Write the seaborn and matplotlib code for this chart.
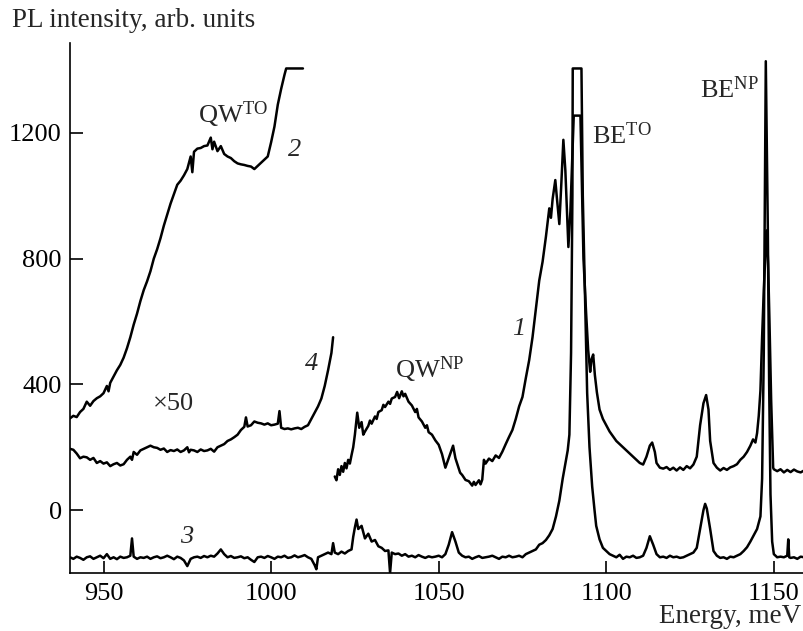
import pandas as pd
import seaborn as sns
from matplotlib import pyplot as plt

# spectra as (energy meV, intensity) points

# curve 1 (upper right)
curve_1 = [
    (1019, 107), (1019.5, 95), (1020, 130), (1020.5, 112), (1021, 140), (1021.5, 122),
    (1022, 150), (1022.5, 133), (1023, 160), (1023.5, 148), (1024, 175), (1024.5, 200),
    (1025, 240), (1025.7, 310), (1026.3, 262), (1027, 280), (1027.5, 240), (1028, 250),
    (1029, 268), (1029.5, 285), (1030, 275), (1031, 298), (1031.5, 290), (1032, 312),
    (1033, 318), (1033.5, 335), (1034, 328), (1035, 345), (1035.5, 338), (1036, 355),
    (1037, 360), (1037.6, 376), (1038.2, 356), (1039, 378), (1039.5, 362), (1040, 370),
    (1041, 345), (1042, 333), (1043, 312), (1043.5, 322), (1044, 295), (1045, 282), (1046, 262),
    (1046.5, 270), (1047, 248), (1048, 240), (1049, 222), (1050, 208), (1051, 178), (1052, 135),
    (1053, 165), (1054.3, 205), (1055, 165), (1056.4, 119), (1057, 112), (1058, 96), (1059, 92),
    (1060, 78), (1060.5, 90), (1061, 80), (1062, 95), (1062.5, 82), (1063, 97), (1063.5, 160),
    (1064, 148), (1065, 164), (1066, 156), (1067, 174), (1068, 166), (1069, 186), (1070, 210),
    (1071, 233), (1072, 255), (1073, 290), (1074, 330), (1075, 360), (1076, 420), (1077, 477),
    (1078, 550), (1079, 640), (1080, 730), (1081, 790), (1082, 870), (1083, 960), (1083.5, 930),
    (1084, 990), (1084.8, 1050), (1085.3, 990), (1086, 910), (1086.6, 1040), (1087.2, 1178),
    (1087.8, 1080), (1088.7, 837), (1089.3, 950), (1089.9, 1130), (1090.3, 1255),
    (1092.3, 1255), (1092.7, 1050), (1093.2, 800), (1094, 625), (1094.6, 510), (1095.2, 440),
    (1095.6, 480), (1096.1, 495), (1096.6, 430), (1097.2, 375), (1098, 320), (1099, 290),
    (1100, 270), (1101, 250), (1102, 235), (1103, 220), (1104, 210), (1105, 200), (1106, 190),
    (1107, 180), (1108, 170), (1109, 160), (1110, 150), (1111, 145), (1112, 170), (1113, 205),
    (1113.7, 215), (1114.5, 185), (1115, 150), (1116, 135), (1117, 132), (1118, 137),
    (1119, 128), (1120, 135), (1121, 126), (1122, 136), (1123, 128), (1124, 140), (1125, 133),
    (1126, 145), (1127, 170), (1128, 270), (1129, 340), (1129.8, 366), (1130.5, 320),
    (1131, 220), (1132, 150), (1133, 135), (1134, 126), (1135, 134), (1136, 128), (1137, 136),
    (1138, 140), (1139, 146), (1140, 160), (1141, 170), (1142, 185), (1143, 205), (1143.8, 225),
    (1144.5, 215), (1145, 245), (1145.5, 300), (1146, 380), (1146.5, 550), (1147, 700),
    (1147.5, 820), (1147.9, 890), (1148.3, 780), (1148.7, 600), (1149.2, 350), (1149.8, 135),
    (1150, 130), (1151, 124), (1152, 130), (1153, 120), (1154, 128), (1155, 121), (1156, 129),
    (1157, 123), (1158, 120), (1159, 126),
]

# curve 2 (upper left)
curve_2 = [
    (940, 292), (941, 300), (942, 296), (943, 312), (944, 322), (945, 345), (946, 332),
    (947, 347), (948, 356), (949, 362), (950, 372), (951, 395), (951.5, 378), (952, 405),
    (953, 425), (954, 445), (955, 462), (956, 485), (957, 515), (958, 550), (959, 590),
    (960, 625), (961, 665), (962, 700), (963, 728), (964, 760), (965, 800), (966, 830),
    (967, 865), (968, 905), (969, 940), (970, 975), (971, 1005), (972, 1035), (973, 1048),
    (974, 1065), (975, 1085), (976, 1125), (976.5, 1075), (977, 1140), (978, 1150), (979, 1152),
    (980, 1158), (981, 1160), (982, 1185), (982.5, 1148), (983, 1172), (984, 1142), (985, 1158),
    (986, 1133), (987, 1125), (988, 1120), (989, 1110), (990, 1103), (991, 1100), (992, 1098),
    (993, 1095), (994, 1093), (995, 1085), (996, 1095), (997, 1105), (998, 1115), (999, 1125),
    (1000, 1170), (1001, 1220), (1002, 1290), (1003, 1340), (1004, 1385), (1004.5, 1405),
    (1009.5, 1405),
]

# curve 3 (bottom)
curve_3 = [
    (940, -150), (941, -155), (942, -148), (943, -152), (944, -158), (945, -150), (946, -147),
    (947, -155), (948, -150), (949, -145), (950, -153), (951, -140), (952, -155), (953, -150),
    (954, -156), (955, -148), (956, -152), (957, -150), (958, -145), (958.5, -90), (959, -148),
    (960, -155), (961, -150), (962, -152), (963, -148), (964, -155), (965, -150), (966, -147),
    (967, -153), (968, -150), (969, -145), (970, -150), (971, -156), (972, -148), (973, -152),
    (974, -160), (975, -178), (976, -155), (977, -150), (978, -148), (979, -152), (980, -146),
    (981, -150), (982, -145), (983, -148), (984, -138), (985, -125), (986, -140), (987, -150),
    (988, -146), (989, -152), (990, -150), (991, -147), (992, -153), (993, -150), (994, -158),
    (995, -165), (996, -150), (997, -148), (998, -152), (999, -146), (1000, -150),
    (1001, -155), (1002, -148), (1003, -150), (1004, -145), (1005, -152), (1006, -150),
    (1007, -144), (1008, -150), (1009, -147), (1010, -143), (1011, -150), (1012, -155),
    (1013, -175), (1013.5, -188), (1014, -150), (1015, -145), (1016, -140), (1017, -135),
    (1018, -140), (1018.5, -105), (1019, -135), (1020, -140), (1021, -132), (1022, -138),
    (1023, -130), (1024, -125), (1024.5, -85), (1025, -55), (1025.5, -30), (1026, -60),
    (1027, -50), (1028, -90), (1029, -75), (1030, -100), (1031, -95), (1032, -115),
    (1033, -120), (1034, -130), (1035, -128), (1035.5, -200), (1036, -135), (1037, -140),
    (1038, -138), (1039, -145), (1040, -140), (1041, -148), (1042, -145), (1043, -150),
    (1044, -143), (1045, -148), (1046, -152), (1047, -147), (1048, -150), (1049, -148),
    (1050, -145), (1051, -150), (1052, -140), (1053, -110), (1054, -70), (1055, -100),
    (1056, -135), (1057, -145), (1058, -150), (1059, -148), (1060, -155), (1061, -150),
    (1062, -146), (1063, -152), (1064, -150), (1065, -148), (1066, -145), (1067, -150),
    (1068, -155), (1069, -148), (1070, -150), (1071, -145), (1072, -150), (1073, -148),
    (1074, -145), (1075, -150), (1076, -140), (1077, -135), (1078, -130), (1079, -125),
    (1080, -110), (1081, -105), (1082, -95), (1083, -80), (1084, -60), (1085, -20), (1086, 30),
    (1087, 100), (1088, 160), (1088.5, 190), (1089, 240), (1089.5, 500), (1089.9, 1000),
    (1090.0, 1405), (1092.6, 1405), (1093.0, 1000), (1093.7, 668), (1094.3, 373), (1095, 200),
    (1095.8, 75), (1096.5, 0), (1097, -50), (1098, -93), (1099, -120), (1100, -130),
    (1101, -140), (1102, -145), (1103, -150), (1104, -142), (1105, -155), (1106, -148),
    (1107, -150), (1108, -145), (1109, -152), (1110, -150), (1111, -145), (1112, -120),
    (1113, -83), (1114, -110), (1115, -140), (1116, -150), (1117, -148), (1118, -152),
    (1119, -145), (1120, -150), (1121, -148), (1122, -152), (1123, -150), (1124, -145),
    (1125, -140), (1126, -135), (1127, -120), (1128, -60), (1129, 0), (1129.5, 20), (1130, 5),
    (1131, -60), (1132, -130), (1133, -145), (1134, -152), (1135, -150), (1136, -155),
    (1137, -148), (1138, -150), (1139, -145), (1140, -140), (1141, -130), (1142, -118),
    (1143, -100), (1144, -80), (1145, -60), (1146, -20), (1146.5, 100), (1147, 500),
    (1147.6, 1428), (1148.2, 900), (1148.6, 400), (1149, 50), (1149.5, -100), (1150, -140),
    (1151, -150), (1152, -148), (1153, -150), (1154, -145), (1154.3, -93), (1154.6, -150),
    (1155, -152), (1156, -150), (1157, -155), (1158, -148), (1159, -150),
]

# curve 4 (x50)
curve_4 = [
    (940, 195), (941, 192), (942, 180), (943, 165), (944, 170), (945, 168), (946, 160),
    (947, 166), (948, 150), (949, 156), (950, 148), (951, 152), (952, 140), (953, 146),
    (954, 150), (955, 142), (956, 146), (957, 160), (958, 170), (958.5, 160), (959, 185),
    (960, 176), (961, 190), (962, 195), (963, 200), (964, 205), (965, 200), (966, 198),
    (967, 192), (968, 196), (969, 185), (970, 191), (971, 188), (972, 193), (973, 185),
    (974, 190), (975, 200), (975.5, 184), (976, 192), (977, 190), (978, 185), (979, 193),
    (980, 188), (981, 190), (982, 195), (983, 186), (984, 200), (985, 205), (986, 210),
    (987, 220), (988, 225), (989, 232), (990, 240), (991, 255), (992, 265), (992.5, 295),
    (993, 266), (994, 270), (995, 282), (996, 278), (997, 276), (998, 272), (999, 276),
    (1000, 270), (1001, 272), (1002, 275), (1002.5, 315), (1003, 262), (1004, 258),
    (1005, 260), (1006, 257), (1007, 260), (1008, 262), (1009, 258), (1010, 265), (1011, 270),
    (1012, 290), (1013, 310), (1014, 330), (1015, 355), (1016, 395), (1017, 445), (1018, 500),
    (1018.5, 550),
]

x_ticks = [950, 1000, 1050, 1100, 1150]
y_ticks = [0, 400, 800, 1200]

sns.set_style("ticks")
plt.rcParams['font.family'] = ['Liberation Serif', 'DejaVu Serif']
plt.rcParams['mathtext.fontset'] = 'custom'
plt.rcParams['mathtext.rm'] = 'Liberation Serif'
plt.rcParams['mathtext.it'] = 'Liberation Serif:italic'

fig = plt.figure(figsize=(8.04, 6.31), dpi=100)
ax = fig.add_axes([70 / 804, 58 / 631, 734 / 804, 530 / 631])

for curve in [curve_1, curve_2, curve_3, curve_4]:
    df = pd.DataFrame(curve, columns=['energy', 'intensity'])
    sns.lineplot(data=df, x='energy', y='intensity', sort=False, estimator=None,
                 color='black', linewidth=1.8, ax=ax)

ax.set_xlim(940, 1159)
ax.set_ylim(-200, 1486)
ax.set_xticks(x_ticks)
ax.set_yticks(y_ticks)
ax.set_xlabel('')
ax.set_ylabel('')
ax.tick_params(direction='in', length=9, width=1.2, labelsize=19, colors='black')
ax.tick_params(axis='y', pad=6)
ax.tick_params(axis='x', pad=7)
sns.despine(ax=ax)
for side in ['left', 'bottom']:
    ax.spines[side].set_color('black')
    ax.spines[side].set_linewidth(1.2)

fig.text(12 / 804, 1 - 8 / 631, 'PL intensity, arb. units', ha='left', va='top', fontsize=19.5)
fig.text(801 / 804, 8 / 631, 'Energy, meV', ha='right', va='baseline', fontsize=19.5)

labels = [
    (978.2, 1232, r'QW$^{\mathrm{TO}}$', 'normal'),
    (1037, 420, r'QW$^{\mathrm{NP}}$', 'normal'),
    (1095.8, 1165, r'BE$^{\mathrm{TO}}$', 'normal'),
    (1128, 1311, r'BE$^{\mathrm{NP}}$', 'normal'),
    (964.8, 319, '×50', 'normal'),
    (1005.1, 1127, '2', 'italic'),
    (1071.9, 557, '1', 'italic'),
    (1010.1, 446, '4', 'italic'),
    (972.8, -103, '3', 'italic'),
]
for x, y, text, style in labels:
    ax.text(x, y, text, ha='left', va='baseline', fontsize=19, style=style)

plt.savefig('out.png', dpi=100)
plt.close()
